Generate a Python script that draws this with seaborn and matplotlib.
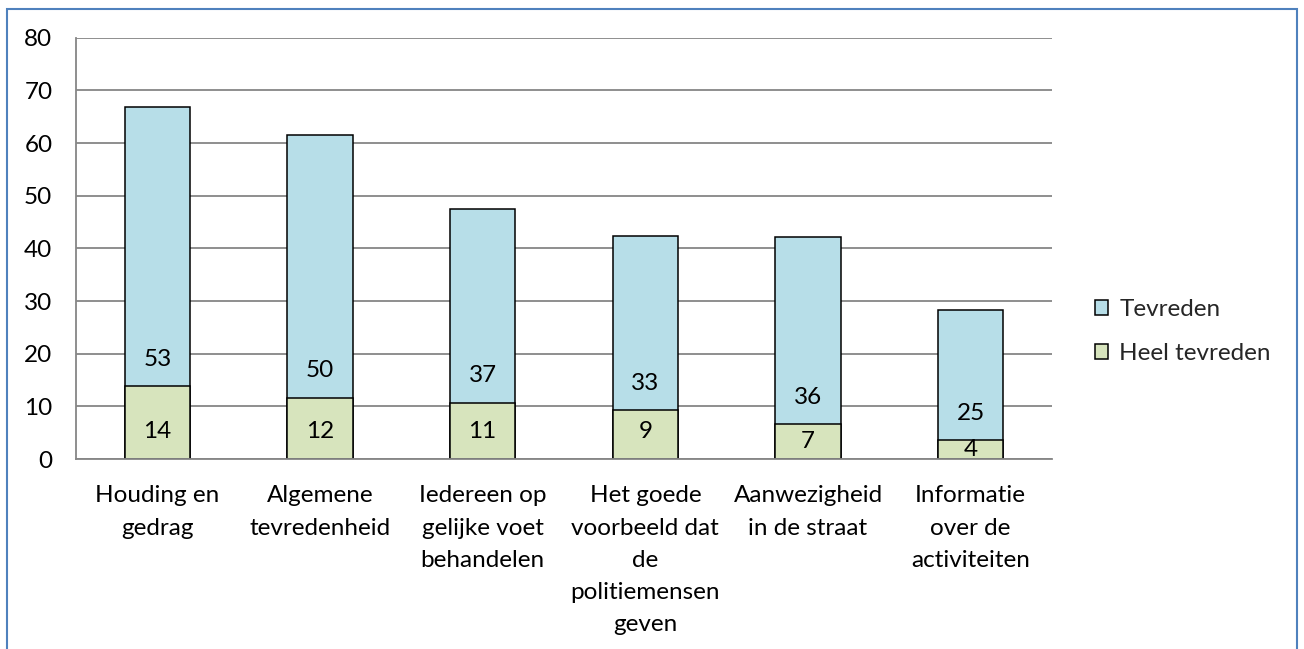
import matplotlib
matplotlib.use("Agg")
import matplotlib.pyplot as plt
from matplotlib.patches import Patch, Rectangle
import seaborn as sns

categories = [
    "Houding en\ngedrag",
    "Algemene\ntevredenheid",
    "Iedereen op\ngelijke voet\nbehandelen",
    "Het goede\nvoorbeeld dat\nde\npolitiemensen\ngeven",
    "Aanwezigheid\nin de straat",
    "Informatie\nover de\nactiviteiten",
]
heel_tevreden = [13.8, 11.6, 10.7, 9.3, 6.6, 3.6]
tevreden = [53.1, 50.0, 36.8, 33.0, 35.6, 24.7]
series_names = ["Tevreden", "Heel tevreden"]

BLUE = "#b7dee8"
GREEN = "#d7e4bd"
GRID = "#868686"
FS = 17.5


def add_labels(ax):
    # Excel "inside base" labels: ~27 px above segment base, centred if segment is small
    ppu = ax.transData.transform((0, 1))[1] - ax.transData.transform((0, 0))[1]
    for i in range(len(categories)):
        for base, val in [(0, heel_tevreden[i]), (heel_tevreden[i], tevreden[i])]:
            seg_px = val * ppu
            if seg_px >= 48:
                off = 27
            else:
                off = max(seg_px - 21, seg_px / 2)
            ax.annotate(f"{val:.0f}", xy=(i, base), xytext=(0, off * 72 / 100),
                        textcoords="offset points", ha="center", va="center",
                        fontsize=FS, color="black")


def main():
    sns.set_theme(style="white")
    plt.rcParams["font.family"] = ["Lato", "DejaVu Sans"]

    fig = plt.figure(figsize=(13.04, 6.49), dpi=100)
    ax = fig.add_axes([76 / 1304, 190 / 649, (1052 - 76) / 1304, (459 - 37.7) / 649])

    totals = [h + t for h, t in zip(heel_tevreden, tevreden)]
    sns.barplot(x=categories, y=totals, color=BLUE, saturation=1, width=0.4,
                edgecolor="black", linewidth=1.1, ax=ax)
    sns.barplot(x=categories, y=heel_tevreden, color=GREEN, saturation=1, width=0.4,
                edgecolor="black", linewidth=1.1, ax=ax)

    ax.set_xlim(-0.5, len(categories) - 0.5)
    ax.set_ylim(0, 80)
    ax.set_yticks(range(0, 81, 10))
    ax.set_axisbelow(True)
    ax.yaxis.grid(True, color=GRID, linewidth=1.3)
    ax.xaxis.grid(False)
    for s in ["top", "right"]:
        ax.spines[s].set_visible(False)
    for s in ["left", "bottom"]:
        ax.spines[s].set_color(GRID)
        ax.spines[s].set_linewidth(1.3)
    ax.tick_params(axis="y", length=0, pad=17, labelsize=FS, colors="black")
    ax.tick_params(axis="x", length=0, pad=19, labelsize=FS, colors="black")
    for lbl in ax.get_xticklabels():
        lbl.set_linespacing(1.66)
    ax.set_xlabel("")
    ax.set_ylabel("")

    add_labels(ax)

    handles = [Patch(facecolor=BLUE, edgecolor="black", linewidth=1.1),
               Patch(facecolor=GREEN, edgecolor="black", linewidth=1.1)]
    fig.legend(handles, series_names, loc="center left",
               bbox_to_anchor=(1095 / 1304, 1 - 331.5 / 649), frameon=False,
               fontsize=FS, handlelength=0.55, handleheight=0.55, handletextpad=0.45,
               labelspacing=0.95, borderpad=0, borderaxespad=0)

    # outer chart frame
    fig.patches.append(Rectangle((7 / 1304, -0.1), (1297 - 7) / 1304, 1.1 - 9 / 649,
                                 transform=fig.transFigure, fill=False,
                                 edgecolor="#4f81bd", linewidth=1.5))

    fig.savefig("out.png", dpi=100)


if __name__ == "__main__":
    main()
